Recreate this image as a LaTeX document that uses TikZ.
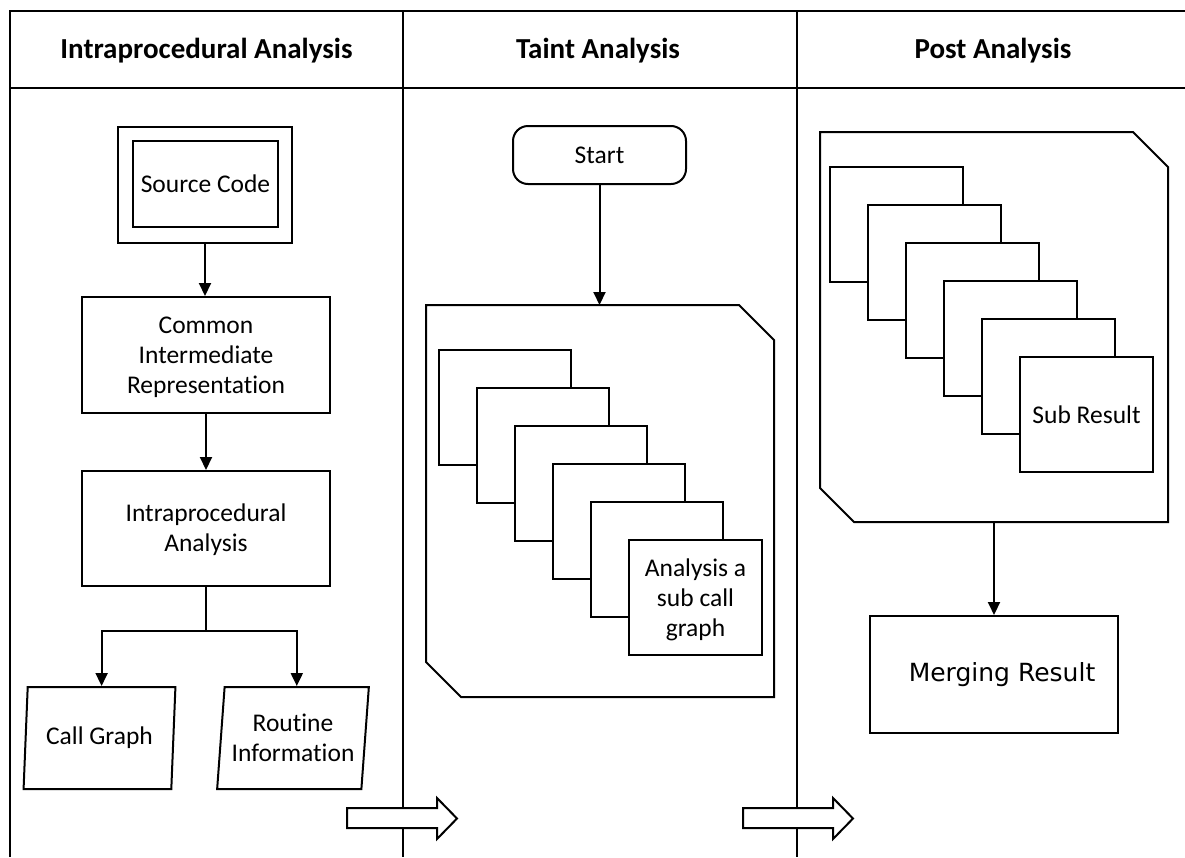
\documentclass[tikz,border=0pt]{standalone}
\usepackage{fontspec}
\setmainfont{Carlito}[Ligatures=NoCommon]
\newfontfamily\dejavu{DejaVu Sans}
\usetikzlibrary{arrows.meta,shapes.geometric,calc}

\begin{document}
\begin{tikzpicture}[x=1pt,y=-1pt,line width=2pt,line join=miter,
  every node/.style={font=\fontsize{25.5}{30}\selectfont,inner sep=0pt,align=center},
  lanehead/.style={font=\fontsize{29}{34}\selectfont\bfseries},
  box/.style={draw,rectangle,fill=white},
  card/.style={box,minimum width=132,minimum height=115},
  para/.style={draw,fill=white,trapezium,trapezium stretches=true,
    trapezium left angle=82,trapezium right angle=98,
    minimum width=152,minimum height=102},
  flow/.style={-{Triangle[width=12pt,length=13pt]}},
  handover/.style={draw,fill=white}]

\useasboundingbox (0,0) rectangle (1185,857);

% swimlane frame
\draw (10,857) -- (10,11) -- (1185,11);
\draw (10,88) -- (1185,88);
\draw (403,11) -- (403,857);
\draw (797,11) -- (797,857);

\node[lanehead] (h1) at (206.5,51) {Intraprocedural Analysis};
\node[lanehead] (h2) at (598,51) {Taint Analysis};
\node[lanehead] (h3) at (993,51) {Post Analysis};

% lane 1: intraprocedural analysis
\node[box,minimum width=174,minimum height=116] (srcout) at (205,184.5) {};
\node[box,minimum width=145,minimum height=86] (src) at (205.5,184) {Source Code};
\node[box,minimum width=248,minimum height=116] (cir) at (206,355) {};
\node (cirtext) at (206,357) {Common\\Intermediate\\Representation};
\node[box,minimum width=248,minimum height=115] (intra) at (206,528.5) {};
\node (intratext) at (206,530) {Intraprocedural\\Analysis};
\node[para] (cg) at (99.5,738) {Call Graph};
\node[para] (ri) at (293,738) {Routine\\Information};

\draw[flow] (srcout.south) -- (srcout.south |- cir.north);
\draw[flow] (cir) -- (intra);
\coordinate (split) at ($(intra.south)+(0,44)$);
\coordinate (cgtop) at ($(cg.top left corner)!0.5!(cg.top right corner)$);
\coordinate (ritop) at ($(ri.top left corner)!0.5!(ri.top right corner)$);
\draw (intra.south) -- (split);
\draw[flow] (split) -| (cgtop);
\draw[flow] (split) -| (ritop);

% lane 2: taint analysis
\node[draw,fill=white,rounded corners=15pt,minimum width=173,minimum height=58] (start) at (599.5,155) {Start};
\node[minimum width=346,minimum height=390] (tc) at (600,501) {};
\draw[fill=white] (tc.north west) -- ($(tc.north east)+(-35,0)$) -- ($(tc.north east)+(0,35)$)
  -- (tc.south east) -- ($(tc.south west)+(35,0)$) -- ($(tc.south west)+(0,-35)$) -- cycle;
\foreach \i in {0,...,4}
  \node[card] (ts\i) at ({505+38*\i},{407.5+38*\i}) {};
\node[card,minimum width=133] (tsub) at (695.5,597.5) {};
\node (tsubtext) at (695.5,599.5) {Analysis a\\sub call\\graph};
\draw[flow] (start.south) -- (start.south |- tc.north);

% lane 3: post analysis
\node[minimum width=346,minimum height=388] (pc) at (994,327) {};
\draw[fill=white] (pc.north west) -- ($(pc.north east)+(-35,0)$) -- ($(pc.north east)+(0,35)$)
  -- (pc.south east) -- ($(pc.south west)+(34,0)$) -- ($(pc.south west)+(0,-34)$) -- cycle;
\foreach \i in {0,...,4}
  \node[card,minimum width=133] (ps\i) at ({896.5+38*\i},{224.5+38*\i}) {};
\node[card,minimum width=133] (psub) at (1086.5,414.5) {Sub Result};
\node[box,minimum width=248,minimum height=117,font=\dejavu\fontsize{25}{30}\selectfont] (merge) at (994,674.5) {\hspace*{16pt}Merging Result};
\draw[flow] (pc.south) -- (pc.south |- merge.north);

% hand-over arrows between lanes
\foreach \x in {347,743}
  \draw[handover] (\x,808) -- (\x+90,808) -- (\x+90,798) -- (\x+110,818.5)
    -- (\x+90,839) -- (\x+90,828) -- (\x,828) -- cycle;
\end{tikzpicture}
\end{document}
